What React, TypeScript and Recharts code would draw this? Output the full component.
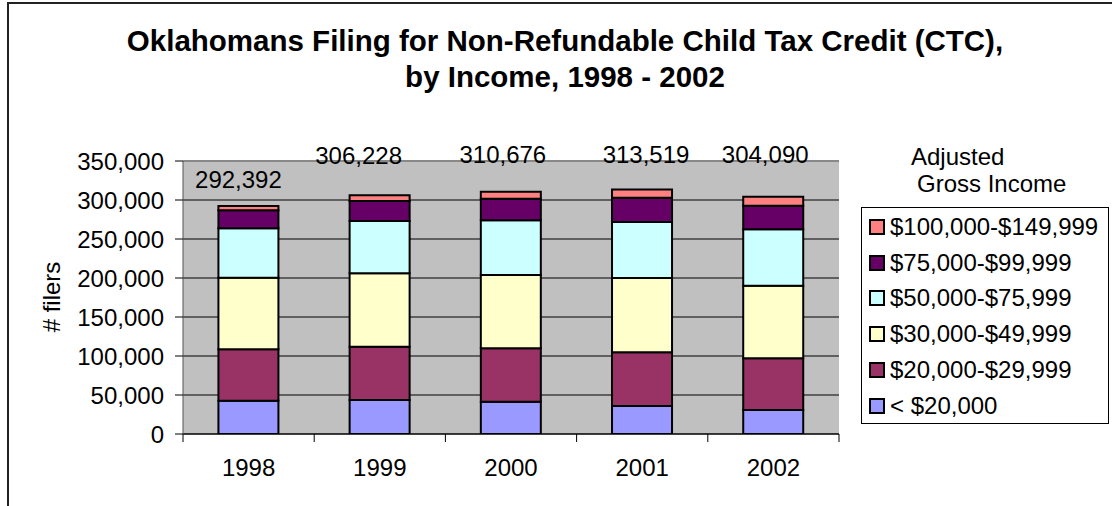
import { BarChart, Bar, XAxis, YAxis, CartesianGrid, LabelList, ReferenceLine } from 'recharts'

const FONT = "'Liberation Sans', Arial, sans-serif"

const years = ['1998', '1999', '2000', '2001', '2002']
const totals = [292392, 306228, 310676, 313519, 304090]
const under20k = [42700, 43600, 41400, 35900, 30800]
const inc20to29 = [65900, 68300, 68400, 68800, 66200]
const inc30to49 = [91800, 94100, 94000, 95300, 93200]
const inc50to75 = [63300, 67100, 70200, 71800, 72200]
const inc75to99 = [23100, 25600, 27700, 31200, 30300]
const inc100to149 = [5592, 7528, 8976, 10519, 11390]
const yTicks = [0, 50000, 100000, 150000, 200000, 250000, 300000, 350000]

const series = [
  { key: 'a', name: '< $20,000', values: under20k, color: '#9999FF' },
  { key: 'b', name: '$20,000-$29,999', values: inc20to29, color: '#993366' },
  { key: 'c', name: '$30,000-$49,999', values: inc30to49, color: '#FFFFCC' },
  { key: 'd', name: '$50,000-$75,999', values: inc50to75, color: '#CCFFFF' },
  { key: 'e', name: '$75,000-$99,999', values: inc75to99, color: '#660066' },
  { key: 'f', name: '$100,000-$149,999', values: inc100to149, color: '#FF8080' },
]

const data = years.map((y, i) => {
  const row: any = { year: y, total: totals[i] }
  series.forEach(s => { row[s.key] = s.values[i] })
  return row
})

// hand-placed total labels, as in the original sheet
const LABEL_DX = [-10, -21, -8, 4, -8]
const LABEL_LIFT = [26, 40, 37, 35, 42]

function TotalLabel({ x, y, width, index }: any) {
  return (
    <text x={x + width / 2 + LABEL_DX[index]} y={y - LABEL_LIFT[index]} textAnchor="middle" dominantBaseline="central"
      style={{ fontFamily: FONT, fontSize: 24, fill: '#000' }}>
      {totals[index].toLocaleString('en-US')}
    </text>
  )
}

function YearTick({ x, y, payload, index }: any) {
  const half = payload?.offset || 65.6
  return (
    <g>
      <line x1={x - half} x2={x - half} y1={y} y2={y + 8} stroke="#000" strokeWidth={1} />
      {index === years.length - 1 && <line x1={x + half} x2={x + half} y1={y} y2={y + 8} stroke="#000" strokeWidth={1} />}
      <text x={x} y={y + 42} textAnchor="middle" style={{ fontFamily: FONT, fontSize: 24, fill: '#000' }}>{payload.value}</text>
    </g>
  )
}

function LegendBox() {
  return (
    <div style={{ position: 'absolute', left: 861, top: 207, width: 246, height: 214, border: '1px solid #000', background: '#fff', paddingTop: 1 }}>
      {[...series].reverse().map(s => (
        <div key={s.key} style={{ display: 'flex', alignItems: 'center', height: 35.8, paddingLeft: 7 }}>
          <span style={{ width: 12, height: 12, background: s.color, border: '2px solid #000', marginRight: 5, flexShrink: 0 }} />
          <span style={{ fontFamily: FONT, fontSize: 24, color: '#000', lineHeight: '24px', whiteSpace: 'nowrap' }}>{s.name}</span>
        </div>
      ))}
    </div>
  )
}

export default function App() {
  return (
    <div style={{ position: 'relative', width: 1112, height: 506, background: '#fff', overflow: 'hidden' }}>
      <style>{`html,body{margin:0;padding:0;overflow:hidden}`}</style>
      <div style={{ position: 'absolute', left: 7, top: 2, width: 1105, height: 2, background: '#222' }} />
      <div style={{ position: 'absolute', left: 7, top: 2, width: 2, height: 504, background: '#222' }} />
      <div style={{ position: 'absolute', left: 0, top: 23, width: 1130, textAlign: 'center', fontFamily: FONT, fontWeight: 700, fontSize: 29.5, lineHeight: '36px', color: '#000' }}>
        Oklahomans Filing for Non-Refundable Child Tax Credit (CTC),<br />by Income, 1998 - 2002
      </div>
      <div style={{ position: 'absolute', left: 911, top: 143, fontFamily: FONT, fontSize: 24, lineHeight: '28px', color: '#000' }}>Adjusted</div>
      <div style={{ position: 'absolute', left: 917, top: 170, fontFamily: FONT, fontSize: 24, lineHeight: '28px', color: '#000' }}>Gross Income</div>
      <div style={{ position: 'absolute', left: 52, top: 297, transform: 'translate(-50%,-50%) rotate(-90deg)', fontFamily: FONT, fontSize: 24, color: '#000', whiteSpace: 'nowrap' }}># filers</div>
      <div style={{ position: 'absolute', left: 0, top: 0 }}>
        <BarChart width={1112} height={506} data={data} margin={{ top: 161, right: 273, bottom: 0, left: 0 }} barCategoryGap="27%">
          <CartesianGrid vertical={false} stroke="#000" fill="#C0C0C0" fillOpacity={1} />
          <XAxis dataKey="year" height={72} axisLine={{ stroke: '#000' }} tickLine={false} tickSize={0} tickMargin={0} tick={<YearTick />} interval={0} />
          <YAxis width={183} domain={[0, 350000]} ticks={yTicks} allowDataOverflow tickSize={8} tickMargin={11}
            axisLine={{ stroke: '#555' }} tickLine={{ stroke: '#000' }}
            tickFormatter={(v: number) => v.toLocaleString('en-US')}
            tick={{ fill: '#000', fontSize: 24, fontFamily: FONT }} />
          <YAxis yAxisId="r" orientation="right" width={0} domain={[0, 350000]} tick={false} tickLine={false} axisLine={{ stroke: '#888' }} />
          <ReferenceLine y={350000} stroke="#888" strokeWidth={2} />
          {series.map((s, i) => (
            <Bar key={s.key} dataKey={s.key} name={s.name} stackId="x" fill={s.color} stroke="#000" strokeWidth={2} isAnimationActive={false}>
              {i === series.length - 1 && <LabelList dataKey="total" content={<TotalLabel />} />}
            </Bar>
          ))}
        </BarChart>
      </div>
      <LegendBox />
    </div>
  )
}
